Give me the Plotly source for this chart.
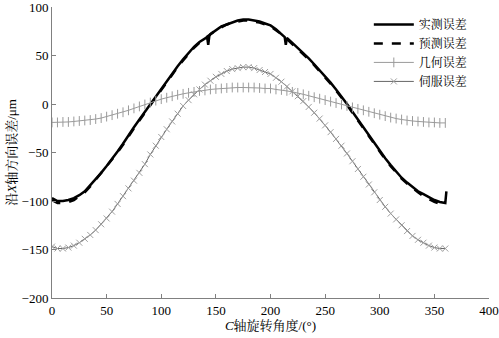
import plotly.graph_objects as go

# ---- data ----
angles = list(range(0, 361, 5))

measured_angles = (list(range(0, 141, 5)) + [142, 143, 144] + list(range(145, 211, 5))
                   + [213, 214] + list(range(215, 361, 5)) + [361])
measured = [-97, -100, -100, -99, -97, -94, -90, -84, -77, -71,
            -64, -57, -49, -41, -32, -24, -16, -8, -1, 7,
            15, 23, 31, 39, 46, 53, 59, 64, 68,
            69, 61, 70,
            72, 76, 80, 82, 84, 86, 87, 87, 86, 85, 83, 81, 77, 72,
            69, 61,
            68, 63, 58, 53, 47, 41, 35, 28, 22, 15, 8, 0, -8, -16,
            -25, -33, -41, -49, -56, -63, -70, -76, -81, -86, -90, -93,
            -96, -99, -101, -102,
            -90]

predicted = [-99, -102, -102, -101, -99, -95, -91, -85, -78, -72,
             -65, -58, -50, -42, -33, -25, -17, -9, -1, 7,
             15, 23, 31, 38, 45, 52, 58, 63, 68, 72,
             76, 79, 82, 84, 85, 86, 86, 85, 84, 82,
             80, 76, 72, 67, 62, 57, 52, 46, 40, 34,
             27, 21, 14, 7, -1, -9, -17, -26, -34, -42,
             -50, -57, -64, -71, -77, -82, -87, -91, -95, -98,
             -101, -103, -104]

geometric = [-19, -19, -18.5, -18.5, -18, -17.5, -17, -16.5, -15.5, -14.5,
             -13, -11.5, -10, -8.5, -6.5, -4.5, -2.5, -0.5, 1.5, 3.5,
             5, 6.5, 8, 9.5, 10.5, 11.5, 12.5, 13.5, 14, 15,
             15.5, 16, 16.5, 17, 17, 17, 17, 17, 16.5, 16,
             16, 15, 14.5, 13.5, 12.5, 11.5, 10, 8.5, 7, 5.5,
             4, 2.5, 1, -0.5, -2, -3.5, -5, -6.5, -8, -9.5,
             -11, -12.5, -14, -15, -16, -17, -17.5, -18, -18.5, -19,
             -19, -19.5, -19.5]

servo = [-147, -149, -149, -148, -146, -143, -139, -135, -130, -124,
         -118, -111, -103, -95, -87, -79, -71, -62, -52, -43,
         -34, -26, -18, -10, -2, 4, 10, 15, 20, 24,
         28, 31, 34, 36, 37, 38, 38, 37, 35, 33,
         31, 27, 23, 18, 13, 8, 3, -3, -9, -15,
         -22, -29, -36, -43, -51, -59, -67, -75, -83, -91,
         -99, -106, -113, -119, -125, -131, -136, -140, -143, -146,
         -148, -149, -149]

names = ["实测误差", "预测误差", "几何误差", "伺服误差"]
x_ticks = [0, 50, 100, 150, 200, 250, 300, 350, 400]
y_ticks = [-200, -150, -100, -50, 0, 50, 100]

FONT = "Liberation Serif, 'Noto Serif CJK SC', 'Noto Sans CJK SC', serif"

fig = go.Figure()
fig.add_trace(go.Scatter(x=measured_angles, y=measured, mode="lines", name=names[0],
                         line=dict(color="black", width=2.5)))
fig.add_trace(go.Scatter(x=angles, y=predicted, mode="lines", name=names[1],
                         line=dict(color="black", width=2.5, dash="dash")))
fig.add_trace(go.Scatter(x=angles, y=geometric, mode="lines+markers", name=names[2],
                         line=dict(color="#9a9a9a", width=1),
                         marker=dict(symbol="line-ns", size=7, color="#9a9a9a",
                                     line=dict(color="#9a9a9a", width=1))))
fig.add_trace(go.Scatter(x=angles, y=servo, mode="lines+markers", name=names[3],
                         line=dict(color="#666666", width=1),
                         marker=dict(symbol="x-thin", size=6, color="#a0a0a0",
                                     line=dict(color="#a0a0a0", width=1))))

axis_common = dict(showgrid=False, zeroline=False, showline=True, linecolor="#808080",
                   linewidth=1, ticks="inside", ticklen=4, tickcolor="#808080",
                   ticklabeloverflow="allow", automargin=False,
                   tickfont=dict(family=FONT, size=13, color="black"))

fig.update_xaxes(range=[0, 400], tickvals=x_ticks, **axis_common,
                 title=dict(text="<i>C</i>轴旋转角度/(°)", font=dict(family=FONT, size=13, color="black"),
                            standoff=4))
fig.update_yaxes(range=[-200, 100], tickvals=y_ticks, **axis_common,
                 title=dict(text="沿<i>X</i>轴方向误差/μm", font=dict(family=FONT, size=13, color="black"),
                            standoff=2))

fig.update_layout(
    width=499, height=338,
    margin=dict(l=52, r=10, t=7, b=40),
    plot_bgcolor="white", paper_bgcolor="white",
    showlegend=True,
    legend=dict(x=0.725, y=0.99, xanchor="left", yanchor="top",
                font=dict(family=FONT, size=12, color="black"),
                bgcolor="rgba(0,0,0,0)", itemwidth=40, tracegroupgap=0),
    hovermode=False,
)

fig.write_html("out.html", config={"displayModeBar": False})
